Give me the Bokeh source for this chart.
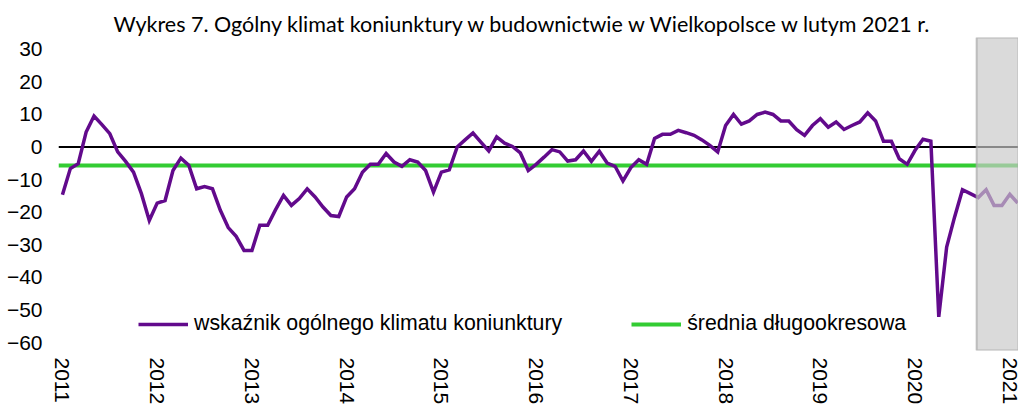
from bokeh.plotting import figure
from bokeh.models import FixedTicker, Span, BoxAnnotation, Legend, LegendItem, Title, Range1d
from bokeh.embed import file_html
from bokeh.resources import INLINE

title_text = "Wykres 7. Ogólny klimat koniunktury w budownictwie w Wielkopolsce w lutym 2021 r."
series_label = "wskaźnik ogólnego klimatu koniunktury"
avg_label = "średnia długookresowa"

start_year = 2011
years = ["2011", "2012", "2013", "2014", "2015", "2016", "2017", "2018", "2019", "2020", "2021"]
y_ticks = [30, 20, 10, 0, -10, -20, -30, -40, -50, -60]

# monthly values, Jan 2011 .. Feb 2021
indicator = [
    -14.6, -6.6, -5.1, 4.6, 9.5, 6.9, 4.1, -1.5, -4.4, -7.7, -14.3, -22.5,      # 2011
    -17.2, -16.4, -7.2, -3.4, -5.6, -12.8, -12.1, -12.8, -19.4, -24.7, -27.4, -31.7,  # 2012
    -31.7, -24.0, -24.0, -19.2, -14.8, -17.9, -15.8, -12.8, -15.3, -18.4, -21.0, -21.3,  # 2013
    -15.3, -12.8, -7.7, -5.3, -5.3, -2.0, -4.6, -5.9, -3.9, -4.6, -7.2, -13.8,  # 2014
    -7.7, -7.0, 0.0, 2.2, 4.3, 1.5, -1.2, 3.1, 1.2, 0.2, -1.8, -7.2,            # 2015
    -5.3, -3.1, -0.8, -1.5, -4.3, -3.9, -1.2, -4.4, -1.3, -4.9, -5.9, -10.4,    # 2016
    -6.3, -3.9, -5.3, 2.6, 3.9, 3.9, 5.1, 4.4, 3.6, 2.2, 0.5, -1.5,            # 2017
    6.6, 10.0, 7.0, 8.0, 10.0, 10.7, 10.0, 8.0, 8.0, 5.3, 3.6, 6.6,            # 2018
    8.7, 6.1, 7.7, 5.4, 6.6, 7.7, 10.5, 8.0, 1.8, 1.8, -3.6, -5.3,             # 2019
    -1.0, 2.4, 1.8, -52.1, -30.7, -21.5, -13.1, -14.3, -15.5, -13.1, -17.9, -17.9,  # 2020
    -14.5, -17.2,                                                             # 2021
]
long_term_avg = -5.8
shade_from = (2020, 9)  # first month in the shaded period

months = list(range(len(indicator)))
year_ticks = [12 * k for k in range(len(years))]
shade_idx = (shade_from[0] - start_year) * 12 + shade_from[1] - 1

PURPLE = "#620a8c"
GREEN = "#33cc33"
AX_FONT = "Liberation Sans"

p = figure(width=1018, height=407, output_backend="svg", toolbar_location=None,
           x_range=Range1d(-0.5, 121.1), y_range=Range1d(-62.4, 33.6),
           min_border_left=58, min_border_right=0, min_border_top=37, min_border_bottom=57)
p.outline_line_color = None
p.xgrid.visible = False
p.ygrid.visible = False

t = Title(text=title_text, text_font="Lato", text_font_size="21.5px", text_font_style="normal",
          align="left", offset=55, standoff=2, text_color="black")
p.add_layout(t, "above")

zero = Span(location=0, dimension="width", line_color="black", line_width=2, level="underlay")
p.add_layout(zero)

avg_r = p.hspan(y=[long_term_avg], line_color=GREEN, line_width=4)
ind_r = p.line(months, indicator, line_color=PURPLE, line_width=3.5, line_join="miter")

shade = BoxAnnotation(left=shade_idx - 0.2, fill_color="#c8c8c8", fill_alpha=0.68,
                      line_color="#a8a8a8", line_alpha=0.7, line_width=2)
p.add_layout(shade)

legend = Legend(items=[LegendItem(label=series_label, renderers=[ind_r]),
                       LegendItem(label=avg_label, renderers=[avg_r])],
                orientation="horizontal", location=(80, 14), glyph_width=50, glyph_height=20,
                label_standoff=6, spacing=69, padding=0, margin=0,
                label_text_font=AX_FONT, label_text_font_size="21.3px", label_text_color="black",
                border_line_alpha=0, background_fill_alpha=0)
p.add_layout(legend, "center")

p.yaxis.ticker = FixedTicker(ticks=y_ticks)
p.yaxis.axis_line_color = None
p.yaxis.major_tick_line_color = None
p.yaxis.minor_tick_line_color = None
p.yaxis.major_tick_out = 0
p.yaxis.major_label_standoff = 16
p.yaxis.major_label_text_font = AX_FONT
p.yaxis.major_label_text_font_size = "21px"
p.yaxis.major_label_text_color = "black"

p.xaxis.ticker = FixedTicker(ticks=year_ticks)
p.xaxis.major_label_overrides = {tk: y for tk, y in zip(year_ticks, years)}
p.xaxis.major_label_orientation = "vertical"
p.xaxis.axis_line_color = None
p.xaxis.major_tick_line_color = None
p.xaxis.minor_tick_line_color = None
p.xaxis.major_tick_out = 0
p.xaxis.major_label_standoff = 7
p.xaxis.major_label_text_font = AX_FONT
p.xaxis.major_label_text_font_size = "21px"
p.xaxis.major_label_text_color = "black"

open("out.html", "w").write(file_html(p, INLINE))
